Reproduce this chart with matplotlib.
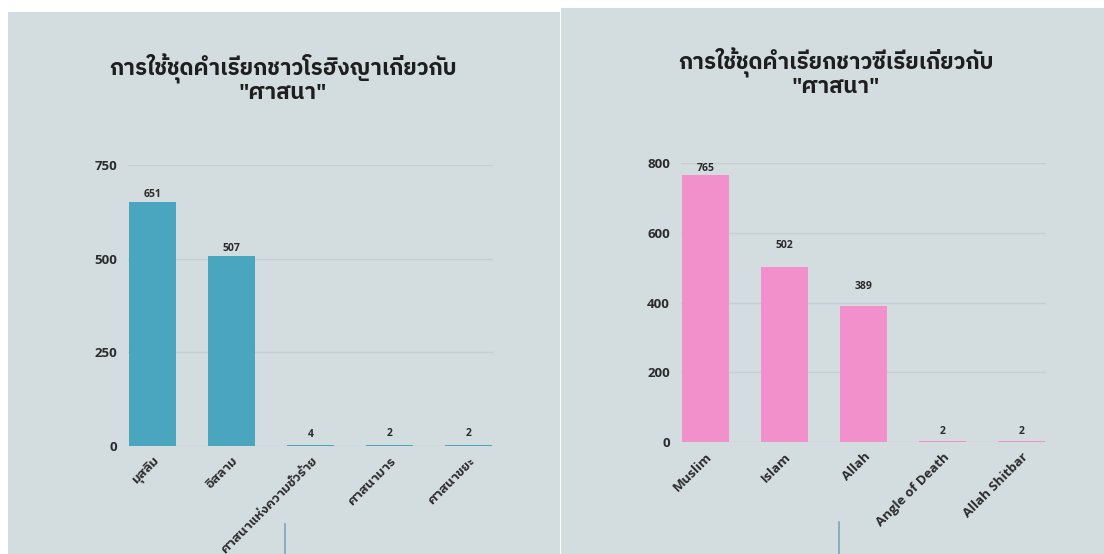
import matplotlib
matplotlib.use("Agg")
import matplotlib.pyplot as plt
from matplotlib.patches import Rectangle
from matplotlib.lines import Line2D

# Thai glyphs come from the second family when the first lacks them
plt.rcParams['font.family'] = ['Open Sans', 'IBM Plex Sans Thai', 'DejaVu Sans']

# Rohingya chart
roh_title = 'การใช้ชุดคำเรียกชาวโรฮิงญาเกี่ยวกับ\n"ศาสนา"'
roh_terms = ['มุสลิม', 'อิสลาม', 'ศาสนาแห่งความชั่วร้าย', 'ศาสนามาร', 'ศาสนาขยะ']
roh_counts = [651, 507, 4, 2, 2]
roh_ticks = [0, 250, 500, 750]

# Syrian chart
syr_title = 'การใช้ชุดคำเรียกชาวซีเรียเกี่ยวกับ\n"ศาสนา"'
syr_terms = ['Muslim', 'Islam', 'Allah', 'Angle of Death', 'Allah Shitbar']
syr_counts = [765, 502, 389, 2, 2]
syr_ticks = [0, 200, 400, 600, 800]

PANEL = '#d3dde0'
GRID = '#c4cfd2'
TEXT = '#2b2b2b'

fig = plt.figure(figsize=(11.04, 5.54), dpi=100, facecolor='white')
W, H = 1104, 554


def px_rect(x0, y0, x1, y1):
    # pixel box (top-left origin) -> figure fractions [left, bottom, width, height]
    return [x0 / W, 1 - y1 / H, (x1 - x0) / W, (y1 - y0) / H]


# the two card backgrounds
for x0, y0, x1 in [(8, 12, 560), (561, 8, 1104)]:
    l, b, w, h = px_rect(x0, y0, x1, H)
    fig.patches.append(Rectangle((l, b), w, h, transform=fig.transFigure,
                                 facecolor=PANEL, edgecolor='none', zorder=-5))

# thin connector lines at the bottom of the cards
for x, ytop in [(285, 524), (839, 522)]:
    fig.lines.append(Line2D([x / W, x / W], [0, 1 - ytop / H], transform=fig.transFigure,
                            color='#7aa6bb', lw=1.2, zorder=-4))


def bar_chart(rect, title, title_xy, terms, counts, ticks, color, label_pad):
    ax = fig.add_axes(px_rect(*rect))
    ax.set_facecolor('none')
    x = list(range(len(terms)))
    bars = ax.bar(x, counts, width=0.6, color=color, zorder=2)
    for b, v, pad in zip(bars, counts, label_pad):
        ax.annotate(str(v), (b.get_x() + b.get_width() / 2, v), xytext=(0, pad),
                    textcoords='offset points', ha='center', va='bottom',
                    fontsize=7.5, fontweight='bold', color=TEXT)
    ax.set_xlim(-0.31, len(terms) - 1 + 0.31)
    ax.set_ylim(0, ticks[-1])
    ax.set_yticks(ticks)
    ax.yaxis.grid(True, color=GRID, lw=1.0, zorder=0)
    ax.set_axisbelow(True)
    for s in ax.spines.values():
        s.set_visible(False)
    ax.tick_params(axis='both', length=0, labelsize=9.5, labelcolor=TEXT)
    ax.tick_params(axis='y', pad=8)
    ax.tick_params(axis='x', pad=6)
    ax.set_xticks(x)
    ax.set_xticklabels(terms, rotation=45, ha='right', rotation_mode='anchor',
                       fontweight='bold')
    for lab in ax.get_yticklabels():
        lab.set_fontweight('bold')
    fig.text(title_xy[0] / W, 1 - title_xy[1] / H, title, ha='center', va='top',
             fontsize=16, fontweight='bold', color='#1e1e1e', linespacing=0.9)
    return ax


bar_chart((128, 165, 493, 446), roh_title, (283, 54), roh_terms, roh_counts,
          roh_ticks, '#4aa6bf', [1.5, 1.5, 3.5, 4.5, 4.5])
bar_chart((681, 163, 1046, 442), syr_title, (836, 48), syr_terms, syr_counts,
          syr_ticks, '#f290cb', [1, 11.5, 10, 3, 3])

fig.savefig('out.png', dpi=100, facecolor='white')
